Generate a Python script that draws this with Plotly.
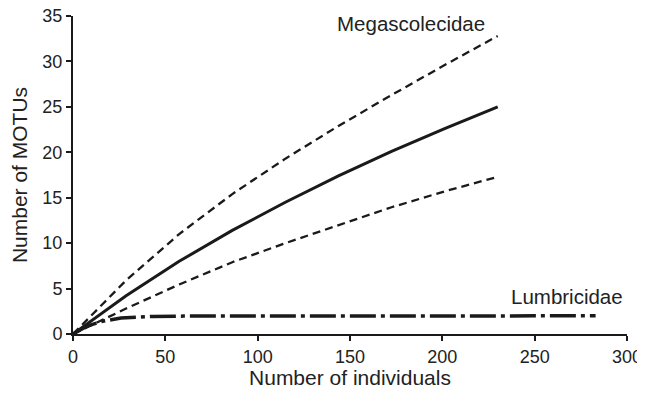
import plotly.graph_objects as go

# Megascolecidae rarefaction (mean and 95% CI)
mega_x = [0, 28.75, 57.5, 86.25, 115, 143.75, 172.5, 201.25, 230]
mega_mean = [0, 4.2, 8.0, 11.4, 14.5, 17.4, 20.1, 22.6, 25.0]
mega_upper = [0, 5.9, 11.0, 15.4, 19.3, 22.9, 26.3, 29.6, 32.8]
mega_lower = [0, 2.8, 5.45, 7.9, 10.0, 12.0, 13.95, 15.7, 17.3]

# Lumbricidae
lumb_x = [0, 8, 16, 26, 43, 60, 283]
lumb_y = [0, 0.9, 1.4, 1.76, 1.93, 1.97, 2.0]

x_ticks = [0, 50, 100, 150, 200, 250, 300]
y_ticks = [0, 5, 10, 15, 20, 25, 30, 35]

FONT = "Liberation Sans, Arial, sans-serif"
INK = "#1a1a1a"
TXT = "#222"

fig = go.Figure()
fig.add_trace(go.Scatter(x=mega_x, y=mega_upper, mode="lines",
                         line=dict(color=INK, width=2.3, dash="8px,5px")))
fig.add_trace(go.Scatter(x=mega_x, y=mega_lower, mode="lines",
                         line=dict(color=INK, width=2.3, dash="8px,5px")))
fig.add_trace(go.Scatter(x=mega_x, y=mega_mean, mode="lines",
                         line=dict(color=INK, width=3)))
fig.add_trace(go.Scatter(x=lumb_x, y=lumb_y, mode="lines",
                         line=dict(color=INK, width=3.5, dash="26px,5px,4px,5px")))

fig.add_annotation(x=183, y=34.2, text="Megascolecidae", showarrow=False,
                   font=dict(size=20.5, color=TXT, family=FONT))
fig.add_annotation(x=267.3, y=4.13, text="Lumbricidae", showarrow=False,
                   font=dict(size=20.5, color=TXT, family=FONT))

# page body has an 8px default margin; figure sized so the page does not scroll
fig.update_layout(
    width=637, height=381,
    margin=dict(l=65, r=18, t=8, b=55),
    paper_bgcolor="white", plot_bgcolor="white",
    showlegend=False,
    font=dict(family=FONT, color=TXT),
)
fig.update_xaxes(range=[0, 300], tickvals=x_ticks, ticktext=[str(v) for v in x_ticks],
                 showline=True, linecolor=INK, linewidth=2, ticks="outside",
                 ticklen=5, tickwidth=1.5, tickcolor=INK, showgrid=False, zeroline=False,
                 automargin=False, ticklabeloverflow="allow",
                 tickfont=dict(size=18, family=FONT, color=TXT),
                 title=dict(text="Number of individuals", font=dict(size=21, family=FONT, color=TXT)))
fig.update_yaxes(range=[0, 35], tickvals=y_ticks, ticktext=[str(v) for v in y_ticks],
                 showline=True, linecolor=INK, linewidth=2, ticks="outside",
                 ticklen=5, tickwidth=1.5, tickcolor=INK, showgrid=False, zeroline=False,
                 automargin=False, ticklabeloverflow="allow",
                 tickfont=dict(size=18, family=FONT, color=TXT),
                 title=dict(text="Number of MOTUs", font=dict(size=21, family=FONT, color=TXT)))

fig.write_html("out.html")
